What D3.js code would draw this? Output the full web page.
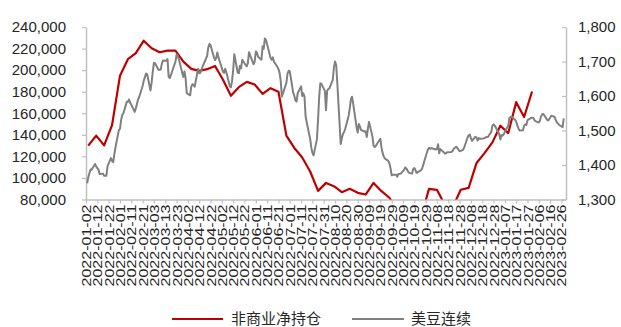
<!DOCTYPE html>
<html>
<head>
<meta charset="utf-8">
<script src="https://cdn.jsdelivr.net/npm/d3@7"></script>
<style>
  body { margin: 0; background: #fff; }
  svg { display: block; }
</style>
</head>
<body>
<svg id="chart" width="621" height="327"></svg>
<script>
// Category labels along the date axis (every 10 days)
const dateTicks = [
  "2022-01-02","2022-01-12","2022-01-22","2022-02-01","2022-02-11","2022-02-21",
  "2022-03-03","2022-03-13","2022-03-23","2022-04-02","2022-04-12","2022-04-22",
  "2022-05-02","2022-05-12","2022-05-22","2022-06-01","2022-06-11","2022-06-21",
  "2022-07-01","2022-07-11","2022-07-21","2022-07-31","2022-08-10","2022-08-20",
  "2022-08-30","2022-09-09","2022-09-19","2022-09-29","2022-10-09","2022-10-19",
  "2022-10-29","2022-11-08","2022-11-18","2022-11-28","2022-12-08","2022-12-18",
  "2022-12-28","2023-01-07","2023-01-17","2023-01-27","2023-02-06","2023-02-16",
  "2023-02-26"
];
const leftTicks = [80000, 100000, 120000, 140000, 160000, 180000, 200000, 220000, 240000];
const rightTicks = [1300, 1400, 1500, 1600, 1700, 1800];

// 非商业净持仓: weekly report (Tuesdays) starting 2022-01-04
const netStart = "2022-01-04";
const netLong = [
  130000, 139200, 130200, 149000, 194700, 210100, 215700, 227300, 220300, 216600,
  218100, 218100, 207900, 201200, 199300, 200900, 203900, 191000, 176200, 184200,
  189100, 186600, 178000, 183300, 179900, 139200, 127800, 119000, 106000, 88000,
  95400, 92300, 86800, 89900, 86200, 84600, 95400, 87700, 81600, 70000,
  62000, 58000, 64000, 89900, 89000, 75000, 73000, 89000, 90800, 113900,
  123000, 133000, 148400, 141600, 170300, 156500, 180200
];

// 美豆连续: daily close on trading days starting 2022-01-03
const soyStart = "2022-01-03";
const soyClose = [
  1347,1364,1376,1387,1386, 1403,1396,1391,1387,1374, 1375,1369,1369,1369,1396,
  1420,1412,1408,1431,1450, 1501,1505,1530,1545,1549, 1583,1583,1590,1580,1575,
  1554,1564,1577,1590,1597, 1629,1644,1654,1665,1663, 1616,1640,1671,1696,1695,
  1676,1676,1677,1693,1703, 1702,1707,1656,1652,1661, 1690,1699,1720,1717,1707,
  1667,1655,1671,1651,1608, 1602,1627,1634,1632,1627, 1679,1666,1667,1675,1686,
  1708,1716,1740,1751,1748, 1712,1704,1710,1726,1712, 1681,1670,1667,1679,1669,
  1628,1625,1643,1675,1721, 1668,1666,1688,1680,1705, 1690,1686,1696,1727,1718,
  1692,1700,1729,1725,1714, 1705,1744,1737,1767,1762, 1724,1710,1705,1712,1700,
  1685,1678,1667,1644,1598, 1628,1638,1665,1673,1672, 1610,1601,1587,1584,1608,
  1628,1600,1608,1598,1540, 1491,1476,1451,1435,1428, 1475,1533,1598,1637,1635,
  1615,1559,1615,1620,1622, 1647,1683,1700,1690,1637, 1461,1478,1490,1496,1505,
  1543,1564,1590,1598,1578, 1510,1494,1519,1511,1501, 1497,1498,1481,1505,1525,
  1483,1456,1452,1455,1461, 1476,1451,1435,1425,1419, 1412,1405,1391,1370,1372,
  1372,1366,1374,1374,1375, 1386,1393,1390,1384,1378, 1375,1388,1391,1386,1377,
  1383,1385,1391,1401,1413, 1445,1450,1447,1449,1448, 1445,1446,1460,1434,1446,
  1437,1433,1434,1437,1437, 1438,1442,1448,1450,1453, 1440,1441,1442,1444,1450,
  1479,1486,1488,1478,1470, 1482,1479,1471,1478,1476, 1477,1478,1480,1481,1481,
  1496,1514,1518,1514,1509, 1489,1474,1487,1485,1489, 1509,1513,1537,1539,1540,
  1531,1526,1515,1506,1500, 1501,1514,1518,1516,1530, 1536,1537,1537,1531,1527,
  1523,1529,1541,1547,1548, 1533,1529,1532,1537,1543, 1539,1530,1523,1520,1516,
  1510,1535
];

const seriesNames = ["非商业净持仓", "美豆连续"];
const seriesColors = ["#C00000", "#808080"];

const parse = d3.utcParse("%Y-%m-%d");

const netDates = netLong.map((_, i) => d3.utcDay.offset(parse(netStart), 7 * i));
const tradingDays = d3.utcDay
  .range(parse(soyStart), d3.utcDay.offset(parse(soyStart), 500))
  .filter(d => d.getUTCDay() > 0 && d.getUTCDay() < 6)
  .slice(0, soyClose.length);

const plot = { left: 86, right: 566, top: 27, bottom: 199.5 };

const x = d3.scaleUtc()
  .domain([parse("2022-01-02"), parse("2023-03-02")])
  .range([plot.left, plot.right]);
const yL = d3.scaleLinear().domain([80000, 240000]).range([plot.bottom, plot.top]);
const yR = d3.scaleLinear().domain([1300, 1800]).range([plot.bottom, plot.top]);

const svg = d3.select("#chart");
const axisColor = "#BFBFBF";
const textColor = "#262626";
const numFont = "'Liberation Sans', Arial, sans-serif";

svg.append("defs").append("clipPath").attr("id", "plotClip")
  .append("rect")
  .attr("x", plot.left).attr("y", plot.top)
  .attr("width", plot.right - plot.left)
  .attr("height", plot.bottom - plot.top);

// Left axis
const gL = svg.append("g")
  .attr("transform", `translate(${plot.left},0)`)
  .call(d3.axisLeft(yL).tickValues(leftTicks).tickFormat(d3.format(","))
    .tickSize(4).tickSizeOuter(0).tickPadding(16));
// Right axis (ticks point inward)
const gR = svg.append("g")
  .attr("transform", `translate(${plot.right},0)`)
  .call(d3.axisRight(yR).tickValues(rightTicks).tickFormat(d3.format(","))
    .tickSize(-4).tickSizeOuter(0).tickPadding(12));
// Bottom date axis
const gB = svg.append("g")
  .attr("transform", `translate(0,${plot.bottom})`)
  .call(d3.axisBottom(x).tickValues(dateTicks.map(parse))
    .tickFormat(d3.utcFormat("%Y-%m-%d")).tickSize(4).tickSizeOuter(0));

[gL, gR, gB].forEach(g => {
  g.select(".domain").attr("stroke", axisColor).attr("stroke-width", 1.5);
  g.selectAll(".tick line").attr("stroke", axisColor).attr("stroke-width", 1.2);
  g.selectAll("text").attr("fill", textColor).style("font-family", numFont);
});
gL.selectAll("text").style("font-size", "15px");
gR.selectAll("text").style("font-size", "15px");
gB.selectAll("text")
  .style("font-size", "12.5px")
  .attr("transform", "rotate(-90)")
  .attr("text-anchor", "end")
  .attr("x", -5).attr("y", 0).attr("dy", "0.36em")
  .attr("textLength", 82).attr("lengthAdjust", "spacingAndGlyphs");

// Series lines
const plotArea = svg.append("g").attr("clip-path", "url(#plotClip)");

const netLine = d3.line()
  .x((d, i) => x(netDates[i]))
  .y(d => yL(d));
plotArea.append("path")
  .datum(netLong)
  .attr("fill", "none")
  .attr("stroke", seriesColors[0])
  .attr("stroke-width", 2.2)
  .attr("stroke-linejoin", "round")
  .attr("d", netLine);

const soyLine = d3.line()
  .x((d, i) => x(tradingDays[i]))
  .y(d => yR(d));
plotArea.append("path")
  .datum(soyClose)
  .attr("fill", "none")
  .attr("stroke", seriesColors[1])
  .attr("stroke-width", 2)
  .attr("stroke-linejoin", "round")
  .attr("d", soyLine);

// Legend
const legend = svg.append("g").attr("transform", "translate(0,319)");
const legendItems = [
  { x0: 172, x1: 223, tx: 231 },
  { x0: 352, x1: 404, tx: 411 }
];
legendItems.forEach((it, i) => {
  legend.append("line")
    .attr("x1", it.x0).attr("x2", it.x1).attr("y1", 0).attr("y2", 0)
    .attr("stroke", seriesColors[i]).attr("stroke-width", 2.2);
  legend.append("text")
    .attr("x", it.tx).attr("y", 0).attr("dy", "0.36em")
    .attr("fill", textColor)
    .style("font-family", "'Noto Sans CJK SC', sans-serif")
    .style("font-size", "15px")
    .text(seriesNames[i]);
});
</script>
</body>
</html>
